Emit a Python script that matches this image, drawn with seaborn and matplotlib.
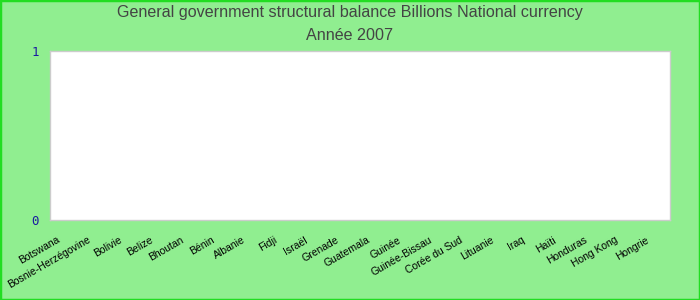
import numpy as np
import pandas as pd
import matplotlib
matplotlib.use("Agg")
import matplotlib.pyplot as plt
import matplotlib.transforms as mtransforms
from matplotlib.patches import Rectangle
import seaborn as sns

title_line1 = "General government structural balance Billions National currency"
title_line2 = "Année 2007"
categories = ["Botswana", "Bosnie-Herzégovine", "Bolivie", "Belize", "Bhoutan",
              "Bénin", "Albanie", "Fidji", "Israël", "Grenade", "Guatemala",
              "Guinée", "Guinée-Bissau", "Corée du Sud", "Lituanie", "Iraq",
              "Haïti", "Honduras", "Hong Kong", "Hongrie"]
values = [np.nan, np.nan, np.nan, np.nan, np.nan, np.nan, np.nan, np.nan, np.nan, np.nan,
          np.nan, np.nan, np.nan, np.nan, np.nan, np.nan, np.nan, np.nan, np.nan, np.nan]
y_ticks = [0, 1]

sns.set_style("white")
plt.rcParams['font.family'] = ['Liberation Sans', 'DejaVu Sans']

df = pd.DataFrame({"country": categories, "value": values})

fig = plt.figure(figsize=(7, 3), dpi=100, facecolor="#90EE90")
ax = fig.add_axes([50/700, 1 - 220/300, 620/700, 169/300])
ax.set_facecolor("white")
sns.barplot(data=df, x="country", y="value", order=categories, ax=ax,
            color="#4472c4", errorbar=None)
ax.set_xlim(-0.5, len(categories) - 0.5)
ax.set_ylim(0, 1)
ax.set_yticks(y_ticks)
ax.set_yticklabels([str(v) for v in y_ticks], family="DejaVu Sans Mono",
                   color="#1a1aa0", fontsize=9)
ax.tick_params(axis="y", length=0, pad=8)
ax.tick_params(axis="x", length=0, pad=2)
ax.set_xlabel("")
ax.set_ylabel("")
ax.set_xticks(range(len(categories)))
ax.set_xticklabels(categories, rotation=30, ha="right", rotation_mode="anchor",
                   fontsize=7.5, color="black")
offset = mtransforms.ScaledTranslation(-9/100, -12/100, fig.dpi_scale_trans)
for lab in ax.get_xticklabels():
    lab.set_transform(lab.get_transform() + offset)
for s in ax.spines.values():
    s.set_color("#cccccc")
    s.set_linewidth(1)

fig.text(0.5, 1 - 13/300, title_line1, ha="center", va="center",
         fontsize=11.6, color="#444444")
fig.text(0.5, 1 - 35/300, title_line2, ha="center", va="center",
         fontsize=11.6, color="#444444")
fig.patches.append(Rectangle((0, 0), 1, 1, transform=fig.transFigure,
                             fill=False, edgecolor="#22dd22", linewidth=2.5,
                             zorder=10))

fig.savefig("out.png", dpi=100, facecolor=fig.get_facecolor())
